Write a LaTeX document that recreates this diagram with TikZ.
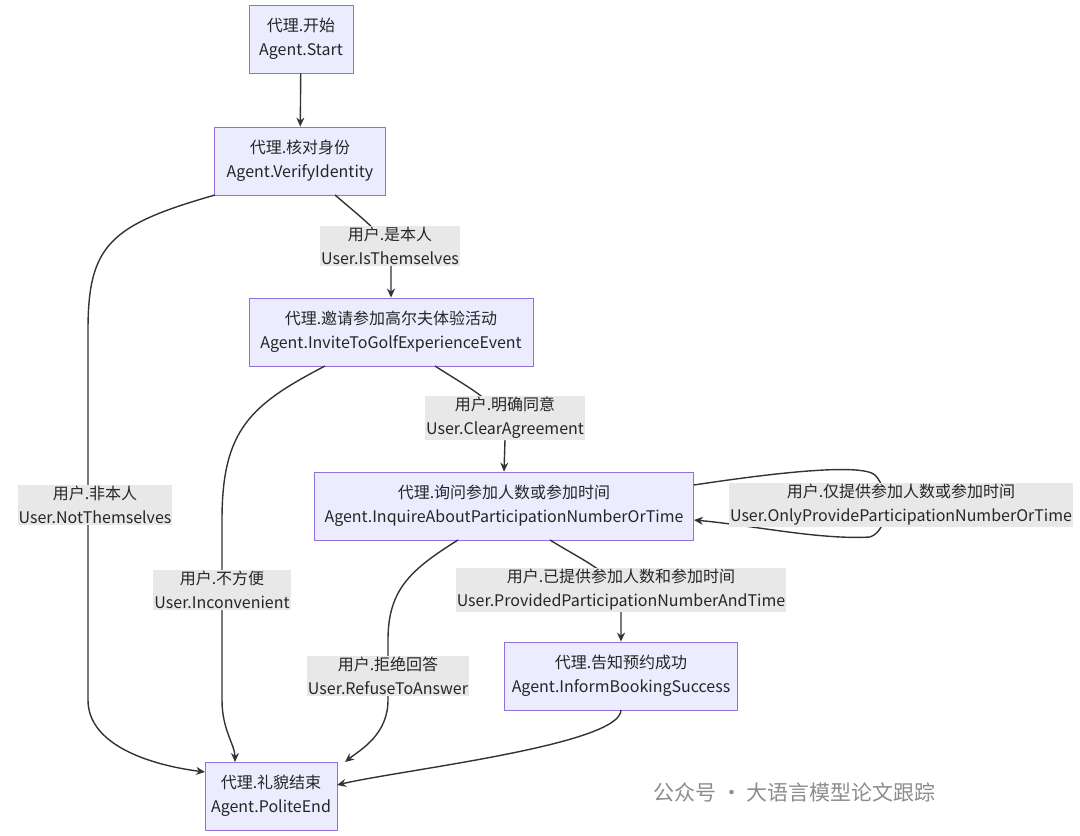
\documentclass[tikz,border=0pt]{standalone}
\usepackage{fontspec}
\setmainfont{Noto Sans CJK SC}
\usetikzlibrary{arrows.meta}
\definecolor{nodefill}{HTML}{ECECFF}
\definecolor{nodeborder}{HTML}{9370DB}
\definecolor{lblbg}{HTML}{E8E8E8}
\definecolor{edge}{HTML}{333333}
\begin{document}
\begin{tikzpicture}[x=1pt,y=-1pt,
  box/.style={draw=nodeborder,fill=nodefill,line width=0.8pt,align=center,font=\fontsize{16}{24}\selectfont,text=black!85,minimum height=68pt,inner xsep=4pt},
  lbl/.style={fill=lblbg,align=center,font=\fontsize{16}{24}\selectfont,text=black!85,inner sep=1pt},
  arr/.style={draw=edge,line width=1.4pt,-{Stealth[length=9pt,width=8pt]}}]
\useasboundingbox (0,0) rectangle (1080,836);
\node[box,minimum width=104pt] (start) at (301,39) {代理.开始\\Agent.Start};
\node[box,minimum width=171pt] (verify) at (300,161) {代理.核对身份\\Agent.VerifyIdentity};
\node[box,minimum width=284pt] (invite) at (391,332) {代理.邀请参加高尔夫体验活动\\Agent.InviteToGolfExperienceEvent};
\node[box,minimum width=379pt] (inquire) at (504,506) {代理.询问参加人数或参加时间\\Agent.InquireAboutParticipationNumberOrTime};
\node[box,minimum width=233pt] (inform) at (621,676) {代理.告知预约成功\\Agent.InformBookingSuccess};
\node[box,minimum width=132pt] (end) at (271,796) {代理.礼貌结束\\Agent.PoliteEnd};

\draw[arr] (start) -- (verify);
\draw[arr] (335,195) .. controls (370,225) and (391,240) .. (391,262) -- (invite.north);
\node[lbl] (l1) at (390,246) {用户.是本人\\User.IsThemselves};
\draw[arr] (215,195) .. controls (110,225) and (88,245) .. (88,330) -- (88,700) .. controls (88,745) and (150,765) .. (205,772);
\node[lbl] (l2) at (95,505) {用户.非本人\\User.NotThemselves};
\draw[arr] (435,366) .. controls (480,395) and (505,405) .. (505,440) -- (inquire.north);
\node[lbl] (l3) at (505,418) {用户.明确同意\\User.ClearAgreement};
\draw[arr] (325,366) .. controls (250,405) and (222,430) .. (222,520) -- (222,700) .. controls (222,730) and (235,745) .. (235,762);
\node[lbl] (l4) at (222,590) {用户.不方便\\User.Inconvenient};
\draw[arr] (550,540) .. controls (590,565) and (621,575) .. (621,610) -- (inform.north);
\node[lbl] (l5) at (621,590) {用户.已提供参加人数和参加时间\\User.ProvidedParticipationNumberAndTime};
\draw[arr] (458,540) .. controls (410,570) and (388,590) .. (388,640) -- (388,700) .. controls (388,735) and (360,750) .. (345,762);
\node[lbl] (l6) at (388,676) {用户.拒绝回答\\User.RefuseToAnswer};
\draw[arr] (621,710) .. controls (621,745) and (400,770) .. (337,785);
\draw[arr] (inquire.east |- 0,485) .. controls (760,475) and (860,462) .. (875,475) .. controls (890,490) and (890,530) .. (870,537) .. controls (820,540) and (750,525) .. (inquire.east |- 0,520);
\node[lbl] (l7) at (901,505) {用户.仅提供参加人数或参加时间\\User.OnlyProvideParticipationNumberOrTime};
\node[text=black!45,font=\fontsize{21}{24}\selectfont,anchor=west] (wm) at (650,792) {公众号 · 大语言模型论文跟踪};
\end{tikzpicture}
\end{document}
